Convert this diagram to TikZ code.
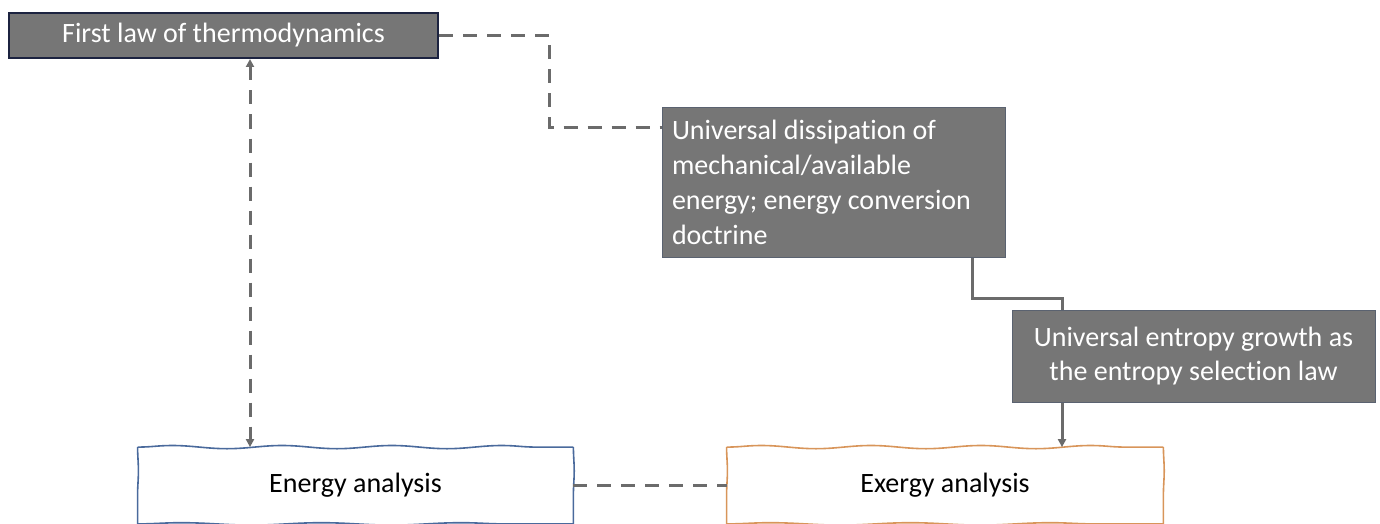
\documentclass[tikz,border=0pt]{standalone}
\usepackage{fontspec}
\setmainfont{Carlito}[Ligatures=NoCommon]
\usetikzlibrary{arrows.meta,decorations.pathmorphing,calc}
\definecolor{boxgray}{HTML}{767676}
\definecolor{linegray}{HTML}{6B6B6B}
\definecolor{navy}{HTML}{1C2340}
\definecolor{noteedge}{HTML}{5A6270}
\definecolor{edgeblue}{HTML}{4A6A9C}
\definecolor{edgeorange}{HTML}{D8955A}
\begin{document}
\begin{tikzpicture}[x=0.5pt,y=-0.5pt,
  law/.style={draw=navy,line width=1pt,fill=boxgray,text=white,inner sep=0pt,
    font=\fontsize{14}{17.4}\selectfont},
  note/.style={draw=noteedge,line width=0.5pt,fill=boxgray,text=white,inner sep=0pt,
    font=\fontsize{14}{17.4}\selectfont},
  study/.style={inner sep=0pt,font=\fontsize{14}{17.4}\selectfont,text=black},
  wavy/.style={decorate,decoration={snake,segment length=55pt,amplitude=0.8pt},line width=0.8pt},
  link/.style={draw=linegray,line width=1.5pt},
  dashlink/.style={link,dash pattern=on 7pt off 5pt},
  tip/.style={-{Triangle[length=4pt,width=4pt]}}
]
\useasboundingbox (0,0) rectangle (1380,524);

% headline law
\node[law,minimum width=429*0.5pt,minimum height=45*0.5pt] (first) at (223.5,35.5)
  {First law of thermodynamics};

% grey explanation boxes
\node[note,minimum width=343*0.5pt,minimum height=149*0.5pt,text width=323*0.5pt,align=flush left]
  (dissip) at (833.5,182.5)
  {Universal dissipation of\\mechanical/available\\energy; energy conversion\\doctrine};
\node[note,minimum width=363*0.5pt,minimum height=92*0.5pt,align=center]
  (entropy) at (1193.5,356)
  {Universal entropy growth as\\the entropy selection law};

% analysis boxes with hand-drawn outlines
\node[study,minimum width=435*0.5pt,minimum height=76*0.5pt] (energy) at (355.5,485.5) {Energy analysis};
\node[study,minimum width=436*0.5pt,minimum height=76*0.5pt] (exergy) at (945,485.5) {Exergy analysis};
\foreach \n/\c in {energy/edgeblue,exergy/edgeorange}{
  \draw[wavy,draw=\c] (\n.north west) -- (\n.north east);
  \draw[wavy,draw=\c,decoration={segment length=70pt,amplitude=0.6pt}] (\n.south west) -- (\n.south east);
  \draw[wavy,draw=\c,decoration={segment length=38pt,amplitude=0.4pt}] (\n.north west) -- (\n.south west);
  \draw[wavy,draw=\c,decoration={segment length=38pt,amplitude=0.4pt}] (\n.north east) -- (\n.south east);
}

% connectors
\coordinate (bendA) at (549,35.5);
\coordinate (bendB) at (549,127);
\draw[dashlink] (first.east) -- (bendA) -- (bendB) -- (bendB -| dissip.west);

\coordinate (stepA) at (972,298);
\draw[link] (dissip.south -| stepA) -- (stepA) -- (stepA -| 1062,0) -- (entropy.north -| 1062,0);
\draw[link,tip] (entropy.south -| 1062,0) -- (energy.north -| 1062,0);

\draw[dashlink,{Triangle[length=4pt,width=4pt]}-{Triangle[length=4pt,width=4pt]}]
  (first.south -| 250,0) -- (energy.north -| 250,0);
\draw[dashlink] (energy.east) -- (exergy.west);
\end{tikzpicture}
\end{document}
